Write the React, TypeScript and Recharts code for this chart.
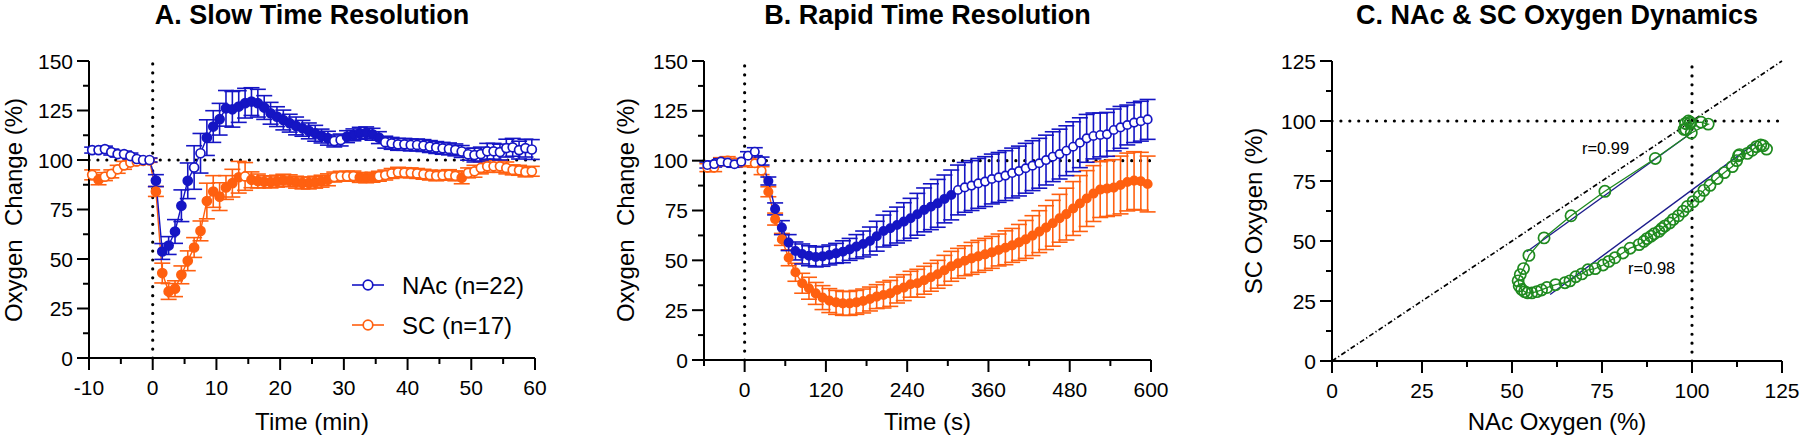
import React from 'react';
import {
  ComposedChart, ScatterChart, Line, Scatter, XAxis, YAxis, ErrorBar,
  ReferenceLine, ReferenceDot, Legend,
} from 'recharts';

const FONT = '"Liberation Sans", Arial, Helvetica, sans-serif';
const NAC = '#1515c4';
const SC = '#ff6010';
const GREEN = '#1f8a1f';
const FIT = '#1c1c8c';

// ---- A. slow time resolution (min) ----
const timesA = [
  -9.5, -8.5, -7.5, -6.5, -5.5, -4.5, -3.5, -2.5, -1.5, -0.5,
  0.5, 1.5, 2.5, 3.5, 4.5, 5.5, 6.5, 7.5, 8.5, 9.5,
  10.5, 11.5, 12.5, 13.5, 14.5, 15.5, 16.5, 17.5, 18.5, 19.5,
  20.5, 21.5, 22.5, 23.5, 24.5, 25.5, 26.5, 27.5, 28.5, 29.5,
  30.5, 31.5, 32.5, 33.5, 34.5, 35.5, 36.5, 37.5, 38.5, 39.5,
  40.5, 41.5, 42.5, 43.5, 44.5, 45.5, 46.5, 47.5, 48.5, 49.5,
  50.5, 51.5, 52.5, 53.5, 54.5, 55.5, 56.5, 57.5, 58.5, 59.5,
];
const nacA = [
  105, 105, 105.5, 104, 103, 103, 102, 100.5, 100, 100,
  89.6, 53.8, 56.8, 63.9, 76.9, 89.5, 96.2, 103.4, 111.3, 116.9,
  120.6, 126.1, 125.6, 127, 128.7, 129.5, 128.7, 126.5, 123.6, 121.9,
  120.2, 118.6, 117.2, 116, 114.7, 113.5, 112.1, 111, 109.6, 110.1,
  111.8, 112.7, 113.5, 113.7, 113, 111.3, 109, 108.4, 107.9, 107.9,
  107.6, 107.6, 107.3, 106.8, 106.3, 105.9, 105.6, 105.1, 104.3, 102.9,
  102.5, 103, 104.4, 104.4, 104, 106, 106.4, 105, 106, 105.3,
];
const nacAErr = [
  1.5, 1.5, 1.5, 1.5, 1.5, 1.5, 1.5, 1.5, 1, 1,
  3, 4, 4.5, 6, 8, 9, 11, 10, 9, 8,
  8, 9, 9, 8, 7.5, 7, 7, 6, 5.5, 5,
  5, 4.5, 4.5, 4, 4, 4, 3.5, 3.5, 3, 3,
  3, 3, 3, 3, 3, 3, 3, 3, 3, 3,
  3, 3, 3, 3, 3, 3, 3, 3, 3, 3,
  3.5, 3.5, 4, 4, 4, 4.5, 4.5, 4.5, 4.5, 5,
];
const scA = [
  92.5, 90, 91.6, 93, 95.3, 97.3, 98.7, 99.3, 99.6, 99.8,
  84.1, 42.9, 33.6, 35, 42, 49.1, 55.8, 64.2, 79.3, 84.1,
  81.5, 86.1, 88.3, 91.3, 91.7, 90, 89.4, 89, 88.9, 89.3,
  89.8, 89.5, 88.8, 88.4, 88.4, 88.8, 89.3, 90, 91.4, 91.8,
  91.8, 91.9, 91.2, 91, 91.3, 91.8, 92.4, 93.2, 93.8, 93.6,
  93.5, 93.2, 92.8, 92.4, 92, 92.3, 92.6, 92, 91, 93.5,
  94.3, 96, 96.8, 96.8, 96.8, 96, 95, 94.8, 94, 94.3,
];
const scAErr = [
  2.5, 2.5, 2, 2, 2, 2, 1.5, 1.5, 1, 1,
  2.5, 5, 4, 4, 4.5, 5, 5, 5, 9, 8,
  7, 6, 7, 8, 7, 4, 3.5, 3, 3, 3,
  3, 3, 3, 3, 3, 3, 3, 3, 2.5, 2.5,
  2.5, 2.5, 2.5, 2.5, 2.5, 2.5, 2.5, 2.5, 2.5, 2.5,
  2.5, 2.5, 2.5, 2.5, 2.5, 2.5, 2.5, 2.5, 3, 2.5,
  3, 3, 3, 3, 3, 3, 2.5, 2.5, 2.5, 2.5,
];
// time ranges drawn with filled markers
const nacASig = [[0.5, 5.5], [8.5, 27.5], [30.5, 35.5]];
const scASig = [[-8.5, -8.5], [0.5, 13.5], [15.5, 27.5], [32.5, 34.5], [48.5, 48.5]];

// ---- B. rapid time resolution (s) ----
const timesB = [
  -55, -45, -35, -25, -15, -5, 5, 15, 25, 35, 45, 55, 65, 75, 85, 95, 105, 115, 125, 135,
  145, 155, 165, 175, 185, 195, 205, 215, 225, 235, 245, 255, 265, 275, 285, 295, 305, 315,
  325, 335, 345, 355, 365, 375, 385, 395, 405, 415, 425, 435, 445, 455, 465, 475, 485, 495,
  505, 515, 525, 535, 545, 555, 565, 575, 585, 595,
];
const nacB = [
  97.8, 98.3, 99.5, 99, 98.2, 99.5, 102.5, 104.5, 99.8, 89.8, 75.8, 66.4, 58.9, 54.7, 53.2, 52.3, 51.7, 52, 52.7, 53.5,
  54.3, 55.5, 56.9, 58.2, 59.7, 62.1, 64.7, 66.1, 67.7, 69.4, 71.1, 73.1, 75.3, 76.9, 78.6, 80.8, 82.8, 85.3,
  86.6, 87.5, 88.6, 89.5, 90.8, 91.6, 92.5, 93.8, 94.8, 96.2, 97.5, 98.7, 100.3, 102, 103.3, 105, 107, 109,
  111.2, 112.4, 112.9, 113.2, 115.4, 116.7, 117.9, 119.1, 119.8, 120.7,
];
const nacBErr = [
  1.5, 1.5, 1.5, 1.5, 1.5, 1.5, 2, 2, 2, 2, 3, 3.5, 4, 4.5, 5, 5, 5, 5, 5, 5,
  5.5, 5.5, 6, 6.5, 7, 7.5, 8, 8.5, 9, 9.5, 10, 10.5, 11, 11.5, 12, 12, 12.5, 12.5,
  12.5, 12.5, 12.5, 12.5, 12.5, 12.5, 12.5, 12.5, 12.5, 12.5, 12.5, 12.5, 12.5, 12.5, 12.5, 12.5, 12.5, 12.5,
  12, 11.5, 11, 11, 10.5, 10.5, 10, 10, 10, 10,
];
const scB = [
  96.5, 96.5, 99.5, 100, 99, 99, 99.5, 98.7, 95, 84.4, 70.7, 60.5, 51.3, 44, 38.5, 36, 33.4, 31.3, 29.8, 28.9,
  28.4, 28.4, 28.9, 29.6, 30.6, 31.8, 32.6, 33.4, 35.1, 36.3, 38, 38.5, 40, 41.5, 43, 45, 47, 48.5,
  49.8, 51, 52, 53, 54, 55.2, 56.3, 57.5, 59, 60.5, 62.4, 64.4, 66.4, 68.6, 71.1, 73.2, 76, 78.5,
  81, 83.5, 85.5, 86, 86.5, 87.8, 89.3, 90, 89.7, 88.3,
];
const scBErr = [
  2, 2, 2, 2, 2, 2, 2, 2, 2, 2.5, 3, 3, 4, 4.5, 5, 5.5, 5.5, 6, 6, 6,
  6, 6, 6, 6, 6, 6, 6.5, 6.5, 6.5, 6.5, 6.5, 7, 7, 7, 7, 7.5, 7.5, 7.5,
  7.5, 8, 8, 8, 8, 8, 8.5, 8.5, 9, 9.5, 10, 10.5, 11, 11.5, 12, 13, 13.5, 14,
  14, 14, 14, 14, 14, 14.5, 14.5, 14.5, 14.5, 14,
];
const nacBSig = [[35, 305]];
const scBSig = [[35, 595]];

// ---- C. NAc vs SC (pairs of the rapid series) ----
const fit99 = [{ x: 54.1, y: 45.5 }, { x: 99.9, y: 95.1 }];
const fit98 = [{ x: 60.6, y: 27.7 }, { x: 117.7, y: 90.9 }];
const fitLabels = [
  { text: 'r=0.99', x: 76, y: 88.7 },
  { text: 'r=0.98', x: 88.8, y: 38.7 },
];

const xTicksA = [-10, -5, 0, 5, 10, 15, 20, 25, 30, 35, 40, 45, 50, 55, 60];
const xTicksB = [-60, 0, 60, 120, 180, 240, 300, 360, 420, 480, 540, 600];
const yTicksAB = [0, 12.5, 25, 37.5, 50, 62.5, 75, 87.5, 100, 112.5, 125, 137.5, 150];
const ticksC = [0, 12.5, 25, 37.5, 50, 62.5, 75, 87.5, 100, 112.5, 125];

const legendItems = [
  { name: 'NAc (n=22)', color: NAC },
  { name: 'SC (n=17)', color: SC },
];

const inRanges = (t: number, ranges: number[][]) =>
  ranges.some(([a, b]) => t >= a - 1e-6 && t <= b + 1e-6);

const rowsA = timesA.map((t, i) => ({
  t, nac: nacA[i], nacErr: nacAErr[i], nacFill: inRanges(t, nacASig),
  sc: scA[i], scErr: scAErr[i], scFill: inRanges(t, scASig),
}));
const rowsB = timesB.map((t, i) => ({
  t, nac: nacB[i], nacErr: nacBErr[i], nacFill: inRanges(t, nacBSig),
  sc: scB[i], scErr: scBErr[i], scFill: inRanges(t, scBSig),
}));
const pairsC = timesB.map((t, i) => ({ x: nacB[i], y: scB[i] }));

const AXIS = { stroke: '#000', strokeWidth: 2 };
const DOTTED = { stroke: '#000', strokeWidth: 3.2, strokeDasharray: '0.01 8.9', strokeLinecap: 'round' as const };

const XTick = (p: any) => {
  const { x, y, payload, major } = p;
  const big = major(payload.value);
  return (
    <g>
      <line x1={x} x2={x} y1={y} y2={y + (big ? 12 : 6)} stroke="#000" strokeWidth={2} />
      {big && (
        <text x={x} y={y + 37} textAnchor="middle" fontSize={21} fontFamily={FONT} fill="#000">
          {payload.value}
        </text>
      )}
    </g>
  );
};

const YTick = (p: any) => {
  const { x, y, payload, major } = p;
  const big = major(payload.value);
  return (
    <g>
      <line x1={x - (big ? 12 : 6)} x2={x} y1={y} y2={y} stroke="#000" strokeWidth={2} />
      {big && (
        <text x={x - 16} y={y + 7.5} textAnchor="end" fontSize={21} fontFamily={FONT} fill="#000">
          {payload.value}
        </text>
      )}
    </g>
  );
};

const markerDot = (color: string, r: number, fillKey: string) => (p: any) => {
  const { cx, cy, payload, index } = p;
  if (cx == null || cy == null) return <g key={`e${index}`} />;
  return (
    <circle key={`d${index}`} cx={cx} cy={cy} r={r}
      fill={payload[fillKey] ? color : '#fff'} stroke={color} strokeWidth={1.7} />
  );
};

const LegendA = () => (
  <svg width={220} height={80}>
    {legendItems.map((it, i) => (
      <g key={it.name} transform={`translate(0, ${i * 40})`}>
        <line x1={0} x2={32} y1={20} y2={20} stroke={it.color} strokeWidth={1.6} />
        <circle cx={16} cy={20} r={4.8} fill="#fff" stroke={it.color} strokeWidth={1.7} />
        <text x={50} y={28.6} fontSize={24} fontFamily={FONT} fill="#000">{it.name}</text>
      </g>
    ))}
  </svg>
);

function TimePanel(props: {
  rows: any[]; domain: [number, number]; xTicks: number[]; xMajor: (v: number) => boolean;
  yW: number; right: number; xH: number; r: number; legend?: boolean;
}) {
  const { rows, domain, xTicks, xMajor, yW, right, xH, r, legend } = props;
  return (
    <ComposedChart width={600} height={437} data={rows} margin={{ top: 61, right, bottom: 0, left: 0 }}>
      <XAxis type="number" dataKey="t" domain={domain} ticks={xTicks} interval={0} height={xH}
        tickSize={0} tickMargin={0} tickLine={false} axisLine={AXIS}
        tick={(p: any) => <XTick {...p} major={xMajor} />} />
      <YAxis type="number" domain={[0, 150]} ticks={yTicksAB} interval={0} width={yW}
        tickSize={0} tickMargin={0} tickLine={false} axisLine={AXIS}
        tick={(p: any) => <YTick {...p} major={(v: number) => v % 25 === 0} />} />
      <ReferenceLine y={100} {...DOTTED} />
      <ReferenceLine x={0} {...DOTTED} />
      <Line dataKey="sc" name="SC (n=17)" type="linear" stroke={SC} strokeWidth={1.4}
        dot={markerDot(SC, r, 'scFill')} activeDot={false} isAnimationActive={false}>
        <ErrorBar dataKey="scErr" width={8} stroke={SC} strokeWidth={1.6} direction="y" isAnimationActive={false} />
      </Line>
      <Line dataKey="nac" name="NAc (n=22)" type="linear" stroke={NAC} strokeWidth={1.4}
        dot={markerDot(NAC, r, 'nacFill')} activeDot={false} isAnimationActive={false}>
        <ErrorBar dataKey="nacErr" width={8} stroke={NAC} strokeWidth={1.6} direction="y" isAnimationActive={false} />
      </Line>
      {legend && (
        <Legend layout="vertical" align="center" verticalAlign="middle" width={220} height={80}
          wrapperStyle={{ left: 352, top: 265, width: 220, height: 80 }} content={() => <LegendA />} />
      )}
    </ComposedChart>
  );
}

function PanelC() {
  return (
    <ScatterChart width={600} height={437} margin={{ top: 61, right: 18, bottom: 0, left: 0 }}>
      <XAxis type="number" dataKey="x" domain={[0, 125]} ticks={ticksC} interval={0} height={76}
        tickSize={0} tickMargin={0} tickLine={false} axisLine={AXIS}
        tick={(p: any) => <XTick {...p} major={(v: number) => v % 25 === 0} />} />
      <YAxis type="number" dataKey="y" domain={[0, 125]} ticks={ticksC} interval={0} width={132}
        tickSize={0} tickMargin={0} tickLine={false} axisLine={AXIS}
        tick={(p: any) => <YTick {...p} major={(v: number) => v % 25 === 0} />} />
      <ReferenceLine y={100} {...DOTTED} />
      <ReferenceLine x={100} {...DOTTED} />
      <ReferenceLine segment={[{ x: 0, y: 0 }, { x: 125, y: 125 }]} stroke="#000" strokeWidth={1.7}
        strokeDasharray="5 2.5 1.2 2.5" />
      <Scatter data={pairsC} line={{ stroke: GREEN, strokeWidth: 1.3 }} lineType="joint"
        isAnimationActive={false}
        shape={(p: any) => <circle cx={p.cx} cy={p.cy} r={5.6} fill="none" stroke={GREEN} strokeWidth={1.7} />} />
      <ReferenceLine segment={fit99} stroke={FIT} strokeWidth={1.4} />
      <ReferenceLine segment={fit98} stroke={FIT} strokeWidth={1.4} />
      {fitLabels.map((l) => (
        <ReferenceDot key={l.text} x={l.x} y={l.y} r={0} fill="none" stroke="none"
          label={{ value: l.text, position: 'center', fontSize: 16.5, fill: '#000', fontFamily: FONT }} />
      ))}
    </ScatterChart>
  );
}

const TXT = { fontFamily: FONT, fill: '#000' };

export default function App() {
  return (
    <div style={{ position: 'absolute', left: 0, top: 0, width: 1800, height: 437, background: '#fff' }}>
      <div style={{ position: 'absolute', left: 0, top: 0 }}>
        <TimePanel rows={rowsA} domain={[-10, 60]} xTicks={xTicksA} xMajor={(v) => v % 10 === 0}
          yW={89} right={65} xH={79} r={4.5} legend />
      </div>
      <div style={{ position: 'absolute', left: 600, top: 0 }}>
        <TimePanel rows={rowsB} domain={[-60, 600]} xTicks={xTicksB} xMajor={(v) => v % 120 === 0}
          yW={104} right={49} xH={77} r={4.2} />
      </div>
      <div style={{ position: 'absolute', left: 1200, top: 0 }}>
        <PanelC />
      </div>
      <svg width={1800} height={437} style={{ position: 'absolute', left: 0, top: 0, pointerEvents: 'none' }}>
        <g fontSize={27} fontWeight="bold" textAnchor="middle" {...TXT}>
          <text x={312} y={24}>A. Slow Time Resolution</text>
          <text x={927.5} y={24}>B. Rapid Time Resolution</text>
          <text x={1557} y={24}>C. NAc &amp; SC Oxygen Dynamics</text>
        </g>
        <g fontSize={24} textAnchor="middle" {...TXT}>
          <text x={312} y={430}>Time (min)</text>
          <text x={927.5} y={430}>Time (s)</text>
          <text x={1557} y={430}>NAc Oxygen (%)</text>
          <text transform="translate(22,210) rotate(-90)" style={{ whiteSpace: 'pre' }}>Oxygen  Change (%)</text>
          <text transform="translate(634,210) rotate(-90)" style={{ whiteSpace: 'pre' }}>Oxygen  Change (%)</text>
          <text transform="translate(1262,211) rotate(-90)">SC Oxygen (%)</text>
        </g>
      </svg>
    </div>
  );
}
